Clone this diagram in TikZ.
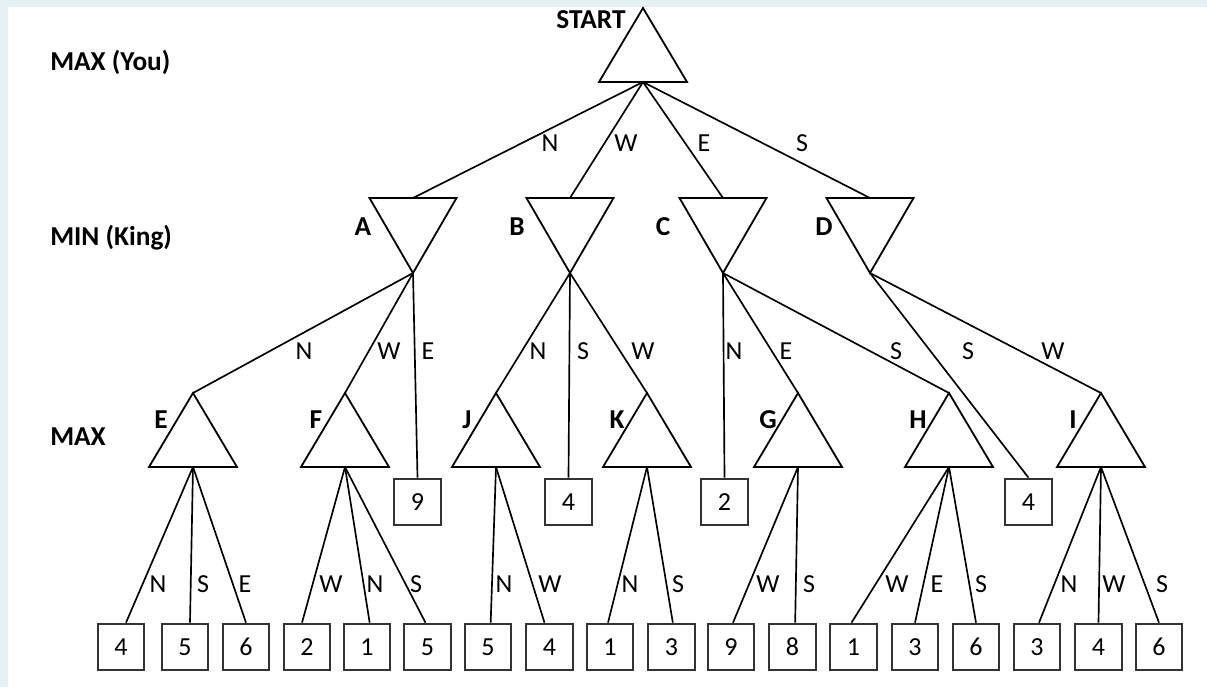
\documentclass[tikz,border=0pt]{standalone}
\usepackage{fontspec}
\setmainfont{Carlito}
\definecolor{bgblue}{HTML}{E6F1F4}
\definecolor{boxgray}{HTML}{333333}
\tikzset{
  tri/.style={draw=black,line width=1.35pt,line join=miter},
  edge/.style={draw=black,line width=1.25pt},
  box/.style={draw=boxgray,line width=1.5pt,minimum width=35pt,minimum height=35pt,inner sep=0pt,font=\fontsize{19.5pt}{21pt}\selectfont},
  lvl/.style={font=\fontsize{20.5pt}{22pt}\selectfont\bfseries,inner sep=0pt,anchor=west},
  nlab/.style={font=\fontsize{20.5pt}{22pt}\selectfont\bfseries,inner sep=0pt},
  elab/.style={font=\fontsize{19.5pt}{21pt}\selectfont,inner sep=0pt},
  maxtri/.pic={\draw[tri] (0,0) -- (44,74) -- (-44,74) -- cycle;
    \coordinate (-top) at (0,0); \coordinate (-bot) at (0,74);},
  mintri/.pic={\draw[tri] (-43.5,0) -- (43.5,0) -- (0,75) -- cycle;
    \coordinate (-top) at (0,0); \coordinate (-bot) at (0,75);},
}
\begin{document}
\begin{tikzpicture}[x=0.75pt,y=-0.75pt]
\useasboundingbox (0,0) rectangle (1207,687);
\fill[bgblue] (0,0) rectangle (1207,687);
\fill[white] (8,7) rectangle (1207,687);

% row labels
\node[lvl] (lmax1) at (50,62) {MAX (You)};
\node[lvl] (lmin) at (50,238) {MIN (King)};
\node[lvl] (lmax2) at (50,437) {MAX};

% triangles
\pic (S) at (643,8) {maxtri};
\pic (A) at (413,198) {mintri};
\pic (B) at (570,198) {mintri};
\pic (C) at (723,198) {mintri};
\pic (D) at (870,198) {mintri};
\pic (E) at (193,393) {maxtri};
\pic (F) at (345,393) {maxtri};
\pic (J) at (496,393) {maxtri};
\pic (K) at (647,393) {maxtri};
\pic (G) at (798,393) {maxtri};
\pic (H) at (949,393) {maxtri};
\pic (I) at (1101,393) {maxtri};

% node labels
\node[nlab] (tS) at (591,20) {START};
\node[nlab] (tA) at (363,227) {A};
\node[nlab] (tB) at (517,227) {B};
\node[nlab] (tC) at (663,227) {C};
\node[nlab] (tD) at (824,227) {D};
\node[nlab] (tE) at (161,420) {E};
\node[nlab] (tF) at (316,420) {F};
\node[nlab] (tJ) at (467,420) {J};
\node[nlab] (tK) at (617,420) {K};
\node[nlab] (tG) at (768,420) {G};
\node[nlab] (tH) at (918,420) {H};
\node[nlab] (tI) at (1073,420) {I};

% middle boxes
\node[box] (m9) at (417.5,502) {9};
\node[box] (m4a) at (568.5,502) {4};
\node[box] (m2) at (724.5,502) {2};
\node[box] (m4b) at (1028.5,502) {4};

% bottom boxes
\node[box] (e1) at (121,647) {4};
\node[box] (e2) at (185,647) {5};
\node[box] (e3) at (246,647) {6};
\node[box] (f1) at (307,647) {2};
\node[box] (f2) at (367,647) {1};
\node[box] (f3) at (427.5,647) {5};
\node[box] (j1) at (488,647) {5};
\node[box] (j2) at (549.5,647) {4};
\node[box] (k1) at (610,647) {1};
\node[box] (k2) at (671.5,647) {3};
\node[box] (g1) at (731,647) {9};
\node[box] (g2) at (792.5,647) {8};
\node[box] (h1) at (853.5,647) {1};
\node[box] (h2) at (915,647) {3};
\node[box] (h3) at (976,647) {6};
\node[box] (i1) at (1037,647) {3};
\node[box] (i2) at (1098.5,647) {4};
\node[box] (i3) at (1159,647) {6};

% level 1 edges
\draw[edge] (S-bot) -- (A-top);
\draw[edge] (S-bot) -- (B-top);
\draw[edge] (S-bot) -- (C-top);
\draw[edge] (S-bot) -- (D-top);
% level 2 edges
\draw[edge] (A-bot) -- (E-top);
\draw[edge] (A-bot) -- (F-top);
\draw[edge] (A-bot) -- (m9.north);
\draw[edge] (B-bot) -- (J-top);
\draw[edge] (B-bot) -- (m4a.north);
\draw[edge] (B-bot) -- (K-top);
\draw[edge] (C-bot) -- (m2.north);
\draw[edge] (C-bot) -- (G-top);
\draw[edge] (C-bot) -- (H-top);
\draw[edge] (D-bot) -- (m4b.north);
\draw[edge] (D-bot) -- (I-top);
% level 3 edges
\draw[edge] (E-bot) -- ([xshift=3.75pt]e1.north);
\draw[edge] (E-bot) -- ([xshift=3.75pt]e2.north);
\draw[edge] (E-bot) -- (e3.north);
\draw[edge] (F-bot) -- ([xshift=-3.75pt]f1.north);
\draw[edge] (F-bot) -- ([xshift=2pt]f2.north);
\draw[edge] (F-bot) -- ([xshift=-1.5pt]f3.north);
\draw[edge] (J-bot) -- ([xshift=2pt]j1.north);
\draw[edge] (J-bot) -- ([xshift=-3.75pt]j2.north);
\draw[edge] (K-bot) -- ([xshift=-1.5pt]k1.north);
\draw[edge] (K-bot) -- ([xshift=1pt]k2.north);
\draw[edge] (G-bot) -- ([xshift=1.5pt]g1.north);
\draw[edge] (G-bot) -- ([xshift=2pt]g2.north);
\draw[edge] (H-bot) -- ([xshift=-1.5pt]h1.north);
\draw[edge] (H-bot) -- (h2.north);
\draw[edge] (H-bot) -- (h3.north);
\draw[edge] (I-bot) -- ([xshift=1.5pt]i1.north);
\draw[edge] (I-bot) -- (i2.north);
\draw[edge] (I-bot) -- (i3.north);

% edge labels level 1
\node[elab] (l1) at (550,143) {N};
\node[elab] (l2) at (626,143) {W};
\node[elab] (l3) at (704,143) {E};
\node[elab] (l4) at (802,143) {S};
% edge labels level 2
\node[elab] (l5) at (304,351) {N};
\node[elab] (l6) at (389,351) {W};
\node[elab] (l7) at (428,351) {E};
\node[elab] (l8) at (538,351) {N};
\node[elab] (l9) at (583,351) {S};
\node[elab] (l10) at (643,351) {W};
\node[elab] (l11) at (734,351) {N};
\node[elab] (l12) at (786,351) {E};
\node[elab] (l13) at (896,351) {S};
\node[elab] (l14) at (968,351) {S};
\node[elab] (l15) at (1053,351) {W};
% edge labels level 3
\node[elab] (l16) at (158,584) {N};
\node[elab] (l17) at (203,584) {S};
\node[elab] (l18) at (245,584) {E};
\node[elab] (l19) at (331,584) {W};
\node[elab] (l20) at (375,584) {N};
\node[elab] (l21) at (416,584) {S};
\node[elab] (l22) at (504,584) {N};
\node[elab] (l23) at (550,584) {W};
\node[elab] (l24) at (630,584) {N};
\node[elab] (l25) at (678,584) {S};
\node[elab] (l26) at (768,584) {W};
\node[elab] (l27) at (809,584) {S};
\node[elab] (l28) at (897,584) {W};
\node[elab] (l29) at (937,584) {E};
\node[elab] (l30) at (981,584) {S};
\node[elab] (l31) at (1069,584) {N};
\node[elab] (l32) at (1114,584) {W};
\node[elab] (l33) at (1162,584) {S};
\end{tikzpicture}
\end{document}
